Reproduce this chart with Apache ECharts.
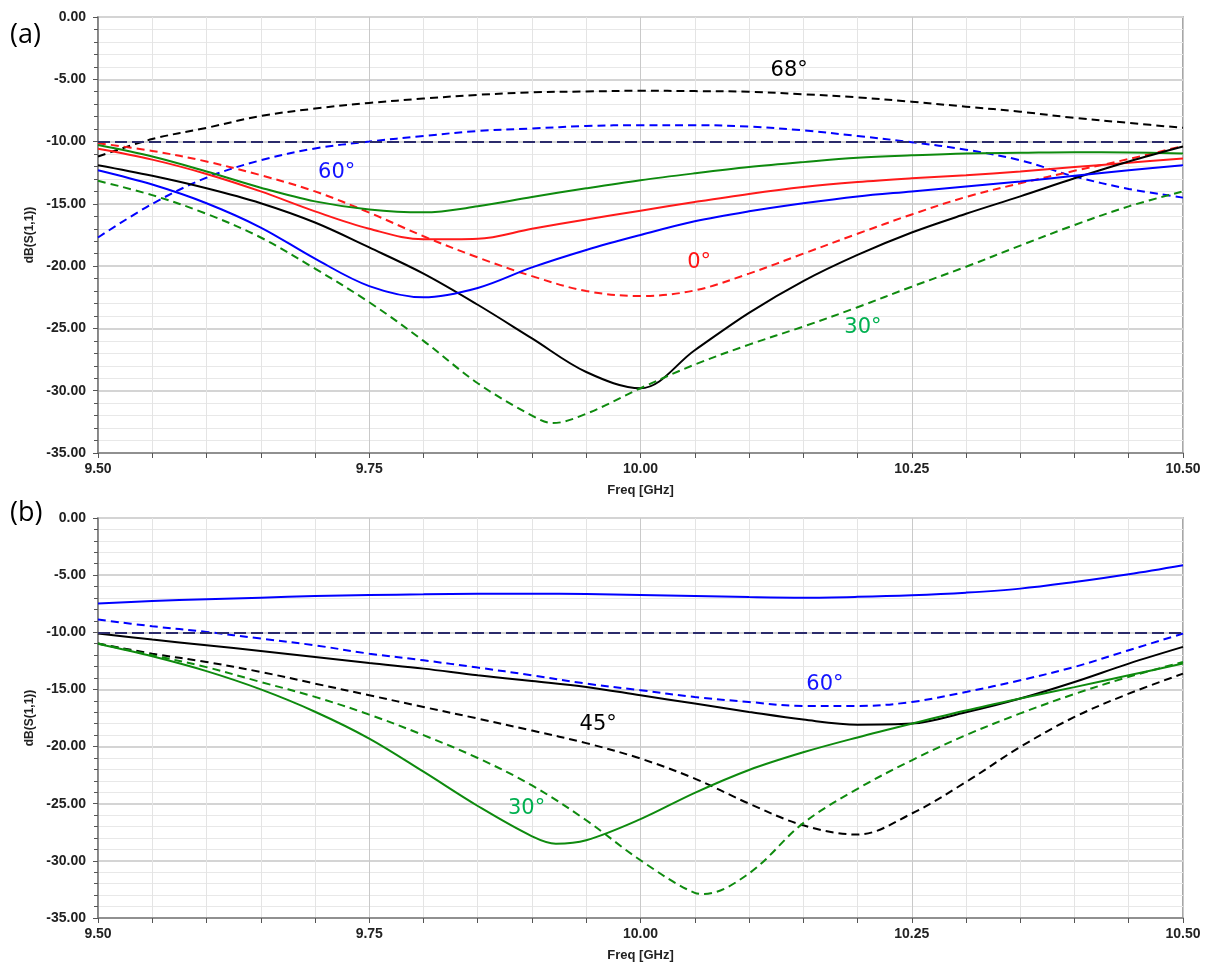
<!DOCTYPE html>
<html><head><meta charset="utf-8">
<script src="https://cdn.jsdelivr.net/npm/echarts@6/dist/echarts.min.js"></script>
<style>html,body{margin:0;padding:0;background:#fff}#c{width:1213px;height:965px}</style>
</head><body><div id="c"></div>
<script>
// Frequency samples (GHz)
const FREQ = [9.50, 9.55, 9.60, 9.65, 9.70, 9.75, 9.80, 9.85, 9.90, 9.95, 10.00,
              10.05, 10.10, 10.15, 10.20, 10.25, 10.30, 10.35, 10.40, 10.45, 10.50];

// ---- Panel (a) dB(S(1,1)) ----
const A_BLACK_DASH = [-11.2, -9.8, -8.9, -7.95, -7.35, -6.9, -6.55, -6.25, -6.05, -5.98, -5.92,
                      -5.95, -6.0, -6.2, -6.45, -6.8, -7.2, -7.6, -8.1, -8.5, -8.9];
const A_BLUE_DASH  = [-17.7, -15.0, -12.9, -11.5, -10.55, -10.0, -9.55, -9.15, -8.95, -8.75, -8.68,
                      -8.68, -8.8, -9.1, -9.55, -10.05, -10.65, -11.5, -12.8, -13.8, -14.5];
const A_RED_DASH   = [-10.13, -10.75, -11.6, -12.7, -14.0, -15.7, -17.6, -19.3, -20.8, -22.0, -22.4,
                      -21.95, -20.6, -19.0, -17.4, -15.85, -14.45, -13.35, -12.35, -11.4, -10.35];
const A_RED        = [-10.58, -11.45, -12.6, -14.0, -15.6, -17.0, -17.85, -17.8, -17.0, -16.25, -15.55,
                      -14.85, -14.2, -13.65, -13.25, -12.95, -12.7, -12.4, -12.05, -11.7, -11.35];
const A_GREEN      = [-10.28, -11.2, -12.4, -13.7, -14.8, -15.45, -15.68, -15.2, -14.45, -13.75, -13.1,
                      -12.55, -12.05, -11.65, -11.3, -11.1, -10.95, -10.9, -10.85, -10.88, -10.95];
const A_BLACK      = [-11.9, -12.75, -13.75, -14.95, -16.5, -18.5, -20.6, -23.1, -25.8, -28.5, -29.8,
                      -26.75, -23.75, -21.2, -19.1, -17.3, -15.8, -14.4, -12.95, -11.6, -10.4];
const A_BLUE       = [-12.3, -13.45, -14.95, -16.9, -19.4, -21.6, -22.5, -21.75, -20.1, -18.7, -17.5,
                      -16.4, -15.6, -14.95, -14.4, -14.0, -13.6, -13.2, -12.75, -12.3, -11.9];
const A_GREEN_DASH = [-13.15, -14.3, -15.8, -17.7, -20.2, -22.9, -26.0, -29.4, -32.0, -31.85, -29.8,
                      -27.9, -26.3, -24.85, -23.3, -21.65, -20.05, -18.35, -16.7, -15.2, -14.0];
// read-off minimum between samples [GHz, dB]
const A_GREEN_DASH_MIN = [[9.919, -32.6]];

// ---- Panel (b) dB(S(1,1)) ----
const B_BLUE       = [-7.49, -7.27, -7.11, -6.97, -6.83, -6.74, -6.68, -6.63, -6.62, -6.66, -6.74,
                      -6.83, -6.92, -6.97, -6.9, -6.76, -6.53, -6.18, -5.6, -4.93, -4.14];
const B_BLUE_DASH  = [-8.89, -9.47, -9.97, -10.55, -11.14, -11.87, -12.45, -13.09, -13.76, -14.49, -15.07,
                      -15.66, -16.1, -16.45, -16.45, -16.1, -15.22, -14.2, -13.03, -11.57, -10.11];
const B_BLACK      = [-10.11, -10.64, -11.14, -11.63, -12.16, -12.69, -13.18, -13.76, -14.26, -14.78, -15.51,
                      -16.24, -16.97, -17.64, -18.08, -17.99, -17.0, -15.8, -14.35, -12.74, -11.28];
const B_BLACK_DASH = [-10.99, -11.87, -12.6, -13.47, -14.49, -15.51, -16.54, -17.55, -18.6, -19.7, -21.05,
                      -22.8, -24.99, -26.89, -27.7, -25.86, -23.1, -20.03, -17.41, -15.37, -13.62];
const B_GREEN      = [-11.0, -12.1, -13.4, -15.0, -16.95, -19.3, -22.2, -25.2, -27.85, -28.2, -26.35,
                      -24.05, -22.05, -20.5, -19.2, -18.0, -16.85, -15.8, -14.8, -13.76, -12.74];
const B_GREEN_DASH = [-10.99, -12.0, -13.05, -14.35, -15.65, -17.2, -19.0, -21.0, -23.4, -26.45, -29.95,
                      -32.8, -31.1, -26.7, -23.7, -21.2, -19.0, -17.1, -15.4, -13.9, -12.6];
const B_GREEN_MIN      = [[9.922, -28.5]];
const B_GREEN_DASH_MIN = [[10.058, -32.9]];

const REF_LEVEL = -10;

// Curve annotations (data coordinates)
const A_NOTES = [
  {text: '68°', f: 10.137, v: -4.3,  color: '#000000'},
  {text: '60°', f: 9.72,   v: -12.5, color: '#1414ff'},
  {text: '0°',  f: 10.054, v: -19.7, color: '#ff1414'},
  {text: '30°', f: 10.205, v: -24.9, color: '#00b050'}
];
const B_NOTES = [
  {text: '60°', f: 10.17, v: -14.55, color: '#1414ff'},
  {text: '45°', f: 9.961, v: -18.05, color: '#000000'},
  {text: '30°', f: 9.895, v: -25.43, color: '#00b050'}
];

const C_BLACK = '#000000', C_RED = '#ff1a1a', C_BLUE = '#0000ff', C_GREEN = '#0e8a0e', C_REF = '#2b2b6b';

function pts(vals, extra) {
  const p = FREQ.map((f, i) => [f, vals[i]]);
  if (extra) extra.forEach(e => p.push(e));
  return p.sort((a, b) => a[0] - b[0]);
}
function line(name, gi, vals, color, dashed, extra) {
  return {
    name, type: 'line', xAxisIndex: gi, yAxisIndex: gi,
    data: pts(vals, extra),
    showSymbol: false, symbol: 'none', smooth: 0.35, silent: true,
    lineStyle: {color, width: 2, type: dashed ? [8, 5] : 'solid'},
    z: 3
  };
}
function notes(gi, list) {
  return {
    type: 'scatter', xAxisIndex: gi, yAxisIndex: gi, symbolSize: 2, silent: true,
    itemStyle: {color: 'rgba(255,255,255,0)'},
    labelLayout: {hideOverlap: false},
    data: list.map(n => ({value: [n.f, n.v], name: n.text,
      label: {show: true, position: 'inside', formatter: '{b}', color: n.color,
              textBorderWidth: 0, opacity: 1,
              fontSize: 21, fontFamily: 'DejaVu Sans'}})),
    z: 5
  };
}
function refLine(gi) {
  return {
    type: 'line', xAxisIndex: gi, yAxisIndex: gi, data: [], silent: true,
    markLine: {symbol: 'none', silent: true, label: {show: false},
      lineStyle: {color: C_REF, width: 2, type: [12, 5]},
      data: [{yAxis: REF_LEVEL}]},
    z: 2
  };
}
function xAx(gi) {
  return {
    gridIndex: gi, type: 'value', min: 9.5, max: 10.5, interval: 0.25,
    axisLine: {onZero: false, lineStyle: {color: '#7a7a7a', width: 1.5}},
    axisTick: {length: 5, lineStyle: {color: '#555'}},
    minorTick: {show: true, splitNumber: 5, length: 5, lineStyle: {color: '#555'}},
    splitLine: {show: true, lineStyle: {color: '#c9c9c9', width: 1}},
    minorSplitLine: {show: true, lineStyle: {color: '#e4e4e4', width: 1}},
    axisLabel: {formatter: v => v.toFixed(2), fontWeight: 'bold', fontSize: 14,
                color: '#222', margin: 9, fontFamily: 'Liberation Sans'},
    name: 'Freq [GHz]', nameLocation: 'middle', nameGap: 31,
    nameTextStyle: {fontWeight: 'bold', fontSize: 13, color: '#222', fontFamily: 'Liberation Sans'}
  };
}
function yAx(gi) {
  return {
    gridIndex: gi, type: 'value', min: -35, max: 0, interval: 5,
    axisLine: {onZero: false, lineStyle: {color: '#7a7a7a', width: 1.5}},
    axisTick: {length: 5, lineStyle: {color: '#555'}},
    minorTick: {show: true, splitNumber: 5, length: 4, lineStyle: {color: '#555'}},
    splitLine: {show: true, lineStyle: {color: '#d4d4d4', width: 2}},
    minorSplitLine: {show: true, lineStyle: {color: '#e8e8e8', width: 1}},
    axisLabel: {formatter: v => v.toFixed(2), fontWeight: 'bold', fontSize: 14,
                color: '#222', margin: 12, fontFamily: 'Liberation Sans'},
    name: 'dB(S(1,1))', nameLocation: 'middle', nameGap: 62, nameRotate: 90,
    nameTextStyle: {fontWeight: 'bold', fontSize: 12, color: '#222', fontFamily: 'Liberation Sans'}
  };
}

const chart = echarts.init(document.getElementById('c'), null, {renderer: 'canvas'});
chart.setOption({
  animation: false,
  backgroundColor: '#ffffff',
  grid: [
    {left: 98, top: 17, width: 1085, height: 436, show: true, borderColor: '#8a8a8a', borderWidth: 1.5, backgroundColor: '#fff'},
    {left: 98, top: 518, width: 1085, height: 400, show: true, borderColor: '#8a8a8a', borderWidth: 1.5, backgroundColor: '#fff'}
  ],
  xAxis: [xAx(0), xAx(1)],
  yAxis: [yAx(0), yAx(1)],
  graphic: [
    {type: 'text', left: 10, top: 22, style: {text: '(a)', fontSize: 27, fontFamily: 'Open Sans', fill: '#000'}},
    {type: 'text', left: 10, top: 500, style: {text: '(b)', fontSize: 27, fontFamily: 'Open Sans', fill: '#000'}}
  ],
  series: [
    refLine(0),
    line('a 68° dashed', 0, A_BLACK_DASH, C_BLACK, true),
    line('a 60° dashed', 0, A_BLUE_DASH, C_BLUE, true),
    line('a 0° dashed', 0, A_RED_DASH, C_RED, true),
    line('a red', 0, A_RED, C_RED, false),
    line('a green', 0, A_GREEN, C_GREEN, false),
    line('a black', 0, A_BLACK, C_BLACK, false),
    line('a blue', 0, A_BLUE, C_BLUE, false),
    line('a 30° dashed', 0, A_GREEN_DASH, C_GREEN, true, A_GREEN_DASH_MIN),
    notes(0, A_NOTES),
    refLine(1),
    line('b blue', 1, B_BLUE, C_BLUE, false),
    line('b 60° dashed', 1, B_BLUE_DASH, C_BLUE, true),
    line('b black', 1, B_BLACK, C_BLACK, false),
    line('b 45° dashed', 1, B_BLACK_DASH, C_BLACK, true),
    line('b green', 1, B_GREEN, C_GREEN, false, B_GREEN_MIN),
    line('b 30° dashed', 1, B_GREEN_DASH, C_GREEN, true, B_GREEN_DASH_MIN),
    notes(1, B_NOTES)
  ]
});
</script>
</body></html>
